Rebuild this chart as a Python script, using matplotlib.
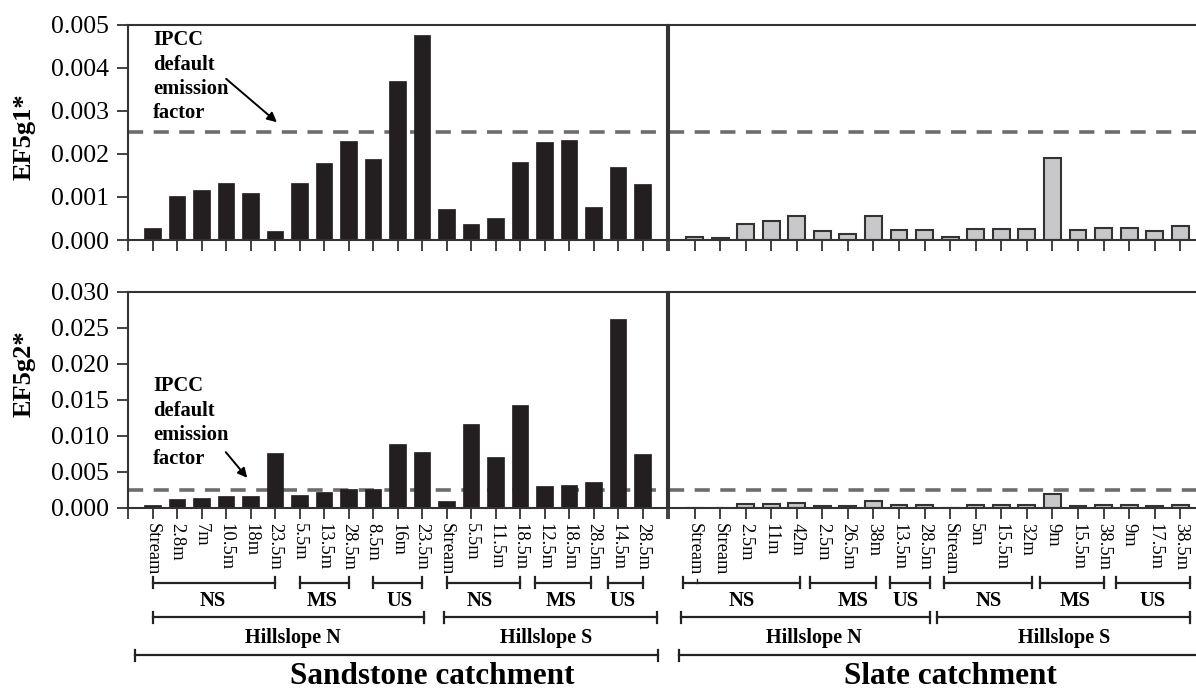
import matplotlib
matplotlib.use("Agg")
import matplotlib.pyplot as plt
from matplotlib.transforms import blended_transform_factory
from matplotlib.lines import Line2D
from matplotlib.patches import FancyArrowPatch

plt.rcParams['font.family'] = ['Liberation Serif', 'DejaVu Serif']

# ---------------- data ----------------
sand_labels = ["Stream", "2.8m", "7m", "10.5m", "18m", "23.5m", "5.5m", "13.5m", "28.5m",
               "8.5m", "16m", "23.5m", "Stream", "5.5m", "11.5m", "18.5m", "12.5m", "18.5m",
               "28.5m", "14.5m", "28.5m"]
sand_ef5g1 = [0.00027, 0.00103, 0.00117, 0.00132, 0.00108, 0.00022, 0.00133, 0.00178, 0.00229,
              0.00188, 0.00370, 0.00476, 0.00071, 0.00037, 0.00050, 0.00181, 0.00228, 0.00232,
              0.00077, 0.00170, 0.00131]
sand_ef5g2 = [0.00041, 0.00119, 0.00138, 0.00161, 0.00161, 0.00752, 0.00174, 0.00216, 0.00261,
              0.00257, 0.00881, 0.00775, 0.00087, 0.01160, 0.00702, 0.01420, 0.00294, 0.00317,
              0.00358, 0.02617, 0.00743]

slate_labels = ["Stream", "Stream", "2.5m", "11m", "42m", "2.5m", "26.5m", "38m", "13.5m",
                "28.5m", "Stream", "5m", "15.5m", "32m", "9m", "15.5m", "38.5m", "9m",
                "17.5m", "38.5m"]
slate_ef5g1 = [0.00006, 0.00004, 0.00036, 0.00045, 0.00056, 0.00020, 0.00013, 0.00055, 0.00024,
               0.00023, 0.00008, 0.00025, 0.00025, 0.00026, 0.00190, 0.00024, 0.00029, 0.00029,
               0.00022, 0.00032]
slate_ef5g2 = [0.0, 0.0, 0.00046, 0.00050, 0.00064, 0.00023, 0.00014, 0.00087, 0.00028,
               0.00028, 0.0, 0.00028, 0.00028, 0.00041, 0.00193, 0.00023, 0.00028, 0.00032,
               0.00023, 0.00037]

ipcc_default = 0.0025

ef5g1_ticks = [0.000, 0.001, 0.002, 0.003, 0.004, 0.005]
ef5g2_ticks = [0.000, 0.005, 0.010, 0.015, 0.020, 0.025, 0.030]

# ---------------- layout ----------------
W, H = 1196, 693
fig = plt.figure(figsize=(W / 100, H / 100), dpi=100)

def fx(px):
    return px / W

def fy(py):
    return 1 - py / H

top_y0, top_y1 = 24.7, 240.0
bot_y0, bot_y1 = 291.7, 507.5
lx0, lx1 = 128.0, 667.0
rx0, rx1 = 669.0, 1196.0
r_unit = 25.56
r_xmax = (rx1 - rx0) / r_unit

def mk(x0, x1, y0, y1):
    return fig.add_axes([fx(x0), fy(y1), fx(x1) - fx(x0), (y1 - y0) / H])

ax_tl = mk(lx0, lx1, top_y0, top_y1)
ax_bl = mk(lx0, lx1, bot_y0, bot_y1)
ax_tr = mk(rx0, rx1, top_y0, top_y1)
ax_br = mk(rx0, rx1, bot_y0, bot_y1)

spine_col = '#333333'
dark = '#231f20'
grey = '#c8c8ca'
dash_col = '#6d6d6d'
bw = 0.66

def style(ax, n, xmax, yticks, ymax, labels, is_left, is_bottom, show_right=True):
    ax.set_xlim(0, xmax)
    ax.set_ylim(0, ymax)
    for s in ax.spines.values():
        s.set_color(spine_col)
        s.set_linewidth(1.5)
    ax.spines['right'].set_visible(show_right)
    ticks = list(range(0, int(xmax) + 1))
    ax.set_xticks(ticks)
    if is_bottom:
        lab = [''] * len(ticks)
        for i, t in enumerate(ticks):
            if 1 <= t <= n:
                lab[i] = labels[t - 1]
        ax.set_xticklabels(lab, rotation=270, fontsize=13.3, va='top', ha='center')
    else:
        ax.set_xticklabels([''] * len(ticks))
    ax.tick_params(axis='x', direction='out', length=8, width=1.3, color=spine_col, pad=3)
    if is_left:
        ax.set_yticks(yticks)
        ax.set_yticklabels(['%.3f' % v for v in yticks], fontsize=18.5)
        ax.tick_params(axis='y', direction='out', length=8, width=1.3, color=spine_col, pad=6)
    else:
        ax.set_yticks([])
    ax.axhline(ipcc_default, color=dash_col, lw=2.6, dashes=(4.2, 2.9), zorder=1)

xs_sand = list(range(1, len(sand_labels) + 1))
xs_slate = list(range(1, len(slate_labels) + 1))

ax_tl.bar(xs_sand, sand_ef5g1, width=bw, color=dark, edgecolor=dark, lw=0.5, zorder=2)
ax_bl.bar(xs_sand, sand_ef5g2, width=bw, color=dark, edgecolor=dark, lw=0.5, zorder=2)
ax_tr.bar(xs_slate, slate_ef5g1, width=bw, color=grey, edgecolor=spine_col, lw=1.5, zorder=2)
ax_br.bar(xs_slate, slate_ef5g2, width=bw, color=grey, edgecolor=spine_col, lw=1.5, zorder=2)

style(ax_tl, len(sand_labels), 22, ef5g1_ticks, 0.005, sand_labels, True, False)
style(ax_bl, len(sand_labels), 22, ef5g2_ticks, 0.030, sand_labels, True, True)
style(ax_tr, len(slate_labels), r_xmax, ef5g1_ticks, 0.005, slate_labels, False, False, False)
style(ax_br, len(slate_labels), r_xmax, ef5g2_ticks, 0.030, slate_labels, False, True, False)

# y labels
fig.text(fx(24), fy(137), 'EF5g1*', rotation=90, fontsize=19, fontweight='bold',
         ha='center', va='center')
fig.text(fx(24), fy(374), 'EF5g2*', rotation=90, fontsize=19, fontweight='bold',
         ha='center', va='center')

# IPCC annotations
ann_txt = 'IPCC\ndefault\nemission\nfactor'
fig.text(fx(153), fy(30), ann_txt, fontsize=14.8, fontweight='bold', ha='left', va='top',
         linespacing=1.3)
fig.text(fx(153), fy(376), ann_txt, fontsize=14.8, fontweight='bold', ha='left', va='top',
         linespacing=1.3)
fig.add_artist(FancyArrowPatch(
    (fx(224), fy(77)), (fx(279), fy(124)), transform=fig.transFigure,
    arrowstyle='-|>', mutation_scale=14, color='black', lw=1.4))
fig.add_artist(FancyArrowPatch(
    (fx(224), fy(450)), (fx(249), fy(480)), transform=fig.transFigure,
    arrowstyle='-|>', mutation_scale=14, color='black', lw=1.4))

# grouping brackets
def bracket(ax, x0, x1, ypx, label, typx, fs, xt, cap_right=True):
    tr = blended_transform_factory(ax.transData, fig.transFigure)
    y = fy(ypx)
    cap = 5.5 / H
    fig.add_artist(Line2D([x0, x1], [y, y], transform=tr, color='#222222', lw=1.6,
                          clip_on=False))
    fig.add_artist(Line2D([x0, x0], [y - cap, y + cap], transform=tr, color='#222222',
                          lw=1.6, clip_on=False))
    if cap_right:
        fig.add_artist(Line2D([x1, x1], [y - cap, y + cap], transform=tr, color='#222222',
                              lw=1.6, clip_on=False))
    fig.text(xt, fy(typx), label, transform=tr, fontsize=fs, fontweight='bold',
             ha='center', va='center')

L1, L2, L3 = 582.7, 617.0, 655.0
T1, T2, T3 = 601.0, 638.0, 677.0

# sandstone
for (a, b, lab, xt) in [(1.0, 6.0, 'NS', 3.45), (7.0, 9.0, 'MS', 7.92), (10.0, 12.0, 'US', 11.1),
                        (13.0, 16.0, 'NS', 14.37), (16.6, 18.9, 'MS', 17.66),
                        (19.6, 21.0, 'US', 20.2)]:
    bracket(ax_bl, a, b, L1, lab, T1, 14.8, xt)
for (a, b, lab, xt) in [(1.0, 12.1, 'Hillslope N', 6.73), (12.9, 21.6, 'Hillslope S', 17.06)]:
    bracket(ax_bl, a, b, L2, lab, T2, 14.5, xt)
bracket(ax_bl, 0.3, 21.65, L3, 'Sandstone catchment', T3, 22.5, 12.4)

# slate
for (a, b, lab, xt) in [(0.55, 5.13, 'NS', 2.86), (5.53, 8.1, 'MS', 7.2), (8.65, 10.2, 'US', 9.25),
                        (10.75, 14.2, 'NS', 12.5), (14.5, 17.0, 'MS', 15.9),
                        (17.5, 20.4, 'US', 18.9)]:
    bracket(ax_br, a, b, L1, lab, T1, 14.8, xt)
for (a, b, lab, xt) in [(0.48, 10.2, 'Hillslope N', 5.67), (10.5, 20.4, 'Hillslope S', 15.47)]:
    bracket(ax_br, a, b, L2, lab, T2, 14.5, xt)
bracket(ax_br, 0.41, 21.5, L3, 'Slate catchment', T3, 22.5, 11.0, cap_right=False)

# small mark on the first slate bracket
trs = blended_transform_factory(ax_br.transData, fig.transFigure)
fig.add_artist(Line2D([1.1, 1.1], [fy(L1), fy(L1 - 3.5)], transform=trs, color='#222222',
                      lw=1.0, clip_on=False))

fig.savefig('out.png', dpi=100)
